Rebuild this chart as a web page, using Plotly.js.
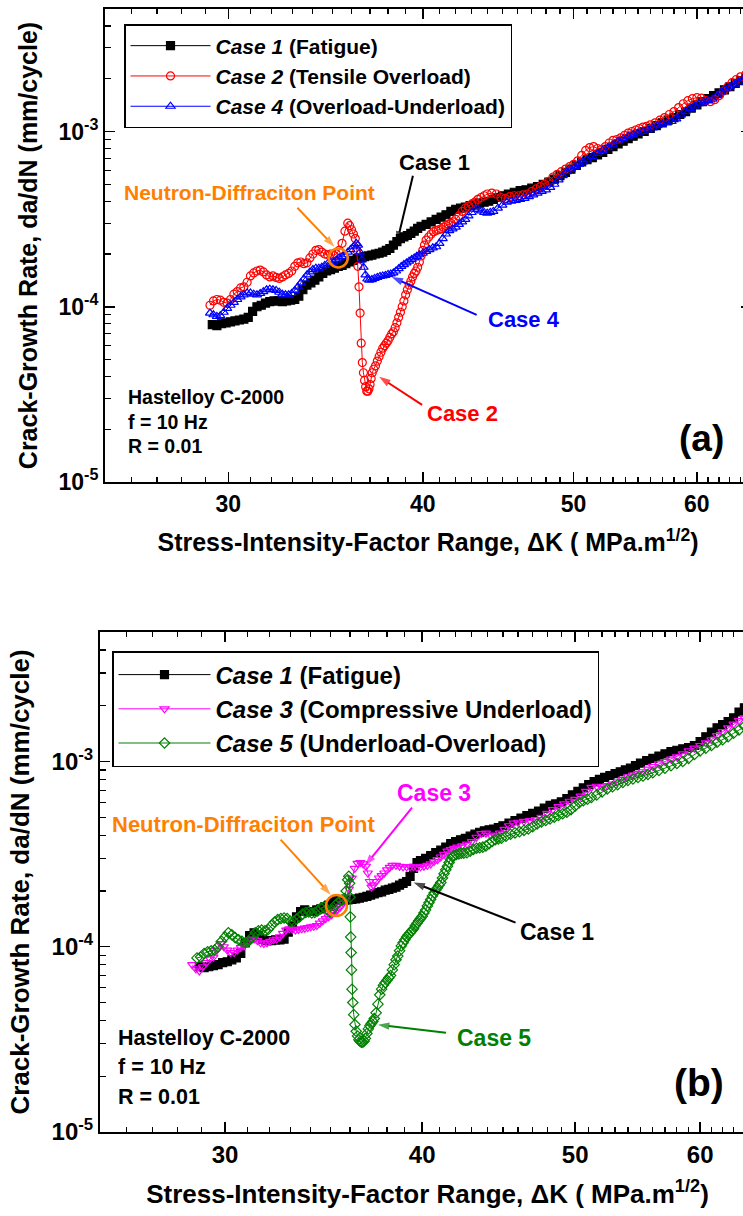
<!DOCTYPE html>
<html>
<head>
<meta charset="utf-8">
<script src="https://cdn.plot.ly/plotly-3.0.1.min.js"></script>
<style>
html,body{margin:0;padding:0;overflow:hidden;background:#fff;}
#chart{width:760px;height:1216px;}
</style>
</head>
<body>
<div id="chart"></div>
<script>
// ---------------- DATA (ΔK in MPa·m^1/2, da/dN in mm/cycle) ----------------
const case1a = [[29.3,7.9e-5],[29.5,7.8e-5],[29.7,8.0e-5],[29.9,8.1e-5],[30.1,8.2e-5],[30.3,8.3e-5],[30.5,8.4e-5],[30.7,8.5e-5],[30.9,8.7e-5],[31.1,9.4e-5],[31.3,1.0e-4],[31.5,1.02e-4],[31.7,1.05e-4],[31.9,1.07e-4],[32.1,1.08e-4],[32.3,1.08e-4],[32.5,1.07e-4],[32.7,1.08e-4],[32.9,1.09e-4],[33.1,1.10e-4],[33.3,1.15e-4],[33.5,1.25e-4],[33.7,1.33e-4],[33.9,1.37e-4],[34.1,1.42e-4],[34.3,1.48e-4],[34.5,1.55e-4],[34.7,1.60e-4],[34.9,1.63e-4],[35.1,1.66e-4],[35.3,1.70e-4],[35.5,1.72e-4],[35.7,1.76e-4],[35.9,1.80e-4],[36.1,1.84e-4],[36.3,1.88e-4],[36.5,1.90e-4],[36.7,1.93e-4],[36.9,1.95e-4],[37.1,1.97e-4],[37.3,2.00e-4],[37.5,2.02e-4],[37.7,2.05e-4],[37.9,2.10e-4],[38.1,2.15e-4],[38.3,2.25e-4],[38.5,2.35e-4],[38.7,2.45e-4],[38.9,2.50e-4],[39.1,2.55e-4],[39.3,2.62e-4],[39.5,2.70e-4],[39.7,2.80e-4],[39.9,2.88e-4],[40.2,2.95e-4],[40.5,3.05e-4],[40.8,3.15e-4],[41.1,3.25e-4],[41.4,3.35e-4],[41.7,3.50e-4],[42.0,3.60e-4],[42.3,3.65e-4],[42.6,3.70e-4],[42.9,3.78e-4],[43.2,3.85e-4],[43.5,3.90e-4],[43.8,3.95e-4],[44.1,4.00e-4],[44.4,4.10e-4],[44.7,4.20e-4],[45.0,4.30e-4],[45.4,4.40e-4],[45.8,4.50e-4],[46.2,4.60e-4],[46.6,4.65e-4],[47.0,4.75e-4],[47.4,4.85e-4],[47.8,5.00e-4],[48.2,5.15e-4],[48.6,5.35e-4],[49.0,5.60e-4],[49.4,5.85e-4],[49.8,6.10e-4],[50.2,6.40e-4],[50.6,6.70e-4],[51.0,6.90e-4],[51.4,7.10e-4],[51.8,7.35e-4],[52.2,7.60e-4],[52.6,7.90e-4],[53.0,8.20e-4],[53.4,8.50e-4],[53.8,8.80e-4],[54.2,9.10e-4],[54.6,9.40e-4],[55.0,9.70e-4],[55.5,1.00e-3],[56.0,1.04e-3],[56.5,1.08e-3],[57.0,1.12e-3],[57.5,1.16e-3],[58.0,1.20e-3],[58.5,1.25e-3],[59.0,1.30e-3],[59.5,1.36e-3],[60.0,1.42e-3],[60.5,1.48e-3],[61.0,1.54e-3],[61.5,1.60e-3],[62.0,1.66e-3],[62.5,1.73e-3],[63.0,1.80e-3],[63.5,1.88e-3],[64.0,1.95e-3],[64.5,2.02e-3]];

const case2a = [[29.2,1.02e-4],[29.35,1.08e-4],[29.5,1.10e-4],[29.65,1.09e-4],[29.8,1.06e-4],[29.95,1.05e-4],[30.1,1.10e-4],[30.25,1.18e-4],[30.4,1.22e-4],[30.55,1.28e-4],[30.7,1.30e-4],[30.85,1.38e-4],[31.0,1.50e-4],[31.15,1.56e-4],[31.3,1.60e-4],[31.45,1.62e-4],[31.6,1.58e-4],[31.75,1.52e-4],[31.9,1.48e-4],[32.05,1.50e-4],[32.2,1.47e-4],[32.35,1.45e-4],[32.5,1.48e-4],[32.65,1.52e-4],[32.8,1.55e-4],[32.95,1.60e-4],[33.1,1.70e-4],[33.25,1.78e-4],[33.4,1.80e-4],[33.55,1.76e-4],[33.7,1.78e-4],[33.85,1.90e-4],[34.0,2.00e-4],[34.15,2.10e-4],[34.3,2.12e-4],[34.45,2.05e-4],[34.6,2.00e-4],[34.75,1.98e-4],[34.9,2.00e-4],[35.05,1.97e-4],[35.2,2.00e-4],[35.35,2.10e-4],[35.5,2.30e-4],[35.65,2.70e-4],[35.8,3.00e-4],[35.9,2.90e-4],[36.0,2.75e-4],[36.1,2.60e-4],[36.2,2.45e-4],[36.28,2.10e-4],[36.34,1.70e-4],[36.4,1.30e-4],[36.46,9.2e-5],[36.52,6.2e-5],[36.58,4.8e-5],[36.64,4.2e-5],[36.7,3.8e-5],[36.76,3.5e-5],[36.82,3.3e-5],[36.88,3.3e-5],[36.94,3.4e-5],[37.0,3.6e-5],[37.06,3.9e-5],[37.12,4.2e-5],[37.2,4.4e-5],[37.3,4.6e-5],[37.4,4.9e-5],[37.5,5.2e-5],[37.6,5.5e-5],[37.7,5.8e-5],[37.8,6.0e-5],[37.9,6.2e-5],[38.0,6.4e-5],[38.1,6.7e-5],[38.2,7.0e-5],[38.3,7.2e-5],[38.4,7.6e-5],[38.5,8.1e-5],[38.6,8.7e-5],[38.7,9.3e-5],[38.8,1.00e-4],[38.9,1.08e-4],[39.0,1.17e-4],[39.1,1.25e-4],[39.2,1.33e-4],[39.3,1.40e-4],[39.4,1.48e-4],[39.5,1.55e-4],[39.6,1.60e-4],[39.7,1.68e-4],[39.8,1.80e-4],[39.9,1.95e-4],[40.0,2.10e-4],[40.1,2.25e-4],[40.2,2.40e-4],[40.35,2.50e-4],[40.5,2.60e-4],[40.65,2.68e-4],[40.8,2.72e-4],[40.95,2.75e-4],[41.1,2.78e-4],[41.25,2.85e-4],[41.4,2.90e-4],[41.55,2.95e-4],[41.7,3.00e-4],[41.85,3.05e-4],[42.0,3.15e-4],[42.2,3.30e-4],[42.4,3.50e-4],[42.6,3.65e-4],[42.8,3.75e-4],[43.0,3.85e-4],[43.2,3.95e-4],[43.4,4.10e-4],[43.6,4.20e-4],[43.8,4.30e-4],[44.0,4.40e-4],[44.3,4.45e-4],[44.6,4.40e-4],[44.9,4.20e-4],[45.2,4.15e-4],[45.5,4.25e-4],[45.8,4.30e-4],[46.1,4.30e-4],[46.4,4.35e-4],[46.7,4.40e-4],[47.0,4.55e-4],[47.3,4.70e-4],[47.6,4.85e-4],[47.9,5.00e-4],[48.2,5.20e-4],[48.5,5.50e-4],[48.8,5.70e-4],[49.1,5.90e-4],[49.4,6.10e-4],[49.7,6.30e-4],[50.0,6.50e-4],[50.3,6.80e-4],[50.6,7.30e-4],[50.9,7.80e-4],[51.2,8.10e-4],[51.5,8.20e-4],[51.8,8.00e-4],[52.1,7.90e-4],[52.4,8.20e-4],[52.7,8.60e-4],[53.0,8.90e-4],[53.3,9.00e-4],[53.6,9.20e-4],[53.9,9.50e-4],[54.2,9.80e-4],[54.5,1.00e-3],[54.8,1.02e-3],[55.1,1.04e-3],[55.4,1.06e-3],[55.7,1.07e-3],[56.0,1.09e-3],[56.4,1.12e-3],[56.8,1.16e-3],[57.2,1.20e-3],[57.6,1.25e-3],[58.0,1.30e-3],[58.4,1.37e-3],[58.8,1.44e-3],[59.2,1.50e-3],[59.6,1.54e-3],[60.0,1.56e-3],[60.4,1.55e-3],[60.8,1.50e-3],[61.2,1.48e-3],[61.6,1.52e-3],[62.0,1.60e-3],[62.4,1.70e-3],[62.8,1.80e-3],[63.2,1.90e-3],[63.6,1.98e-3],[64.0,2.05e-3],[64.5,2.12e-3]];

const case4a = [[29.2,9.2e-5],[29.35,9.0e-5],[29.5,8.8e-5],[29.65,8.9e-5],[29.8,9.3e-5],[29.95,9.8e-5],[30.1,1.02e-4],[30.25,1.06e-4],[30.4,1.10e-4],[30.55,1.14e-4],[30.7,1.17e-4],[30.85,1.20e-4],[31.0,1.20e-4],[31.15,1.18e-4],[31.3,1.17e-4],[31.45,1.19e-4],[31.6,1.22e-4],[31.75,1.25e-4],[31.9,1.26e-4],[32.05,1.25e-4],[32.2,1.24e-4],[32.35,1.21e-4],[32.5,1.18e-4],[32.65,1.17e-4],[32.8,1.17e-4],[32.95,1.19e-4],[33.1,1.24e-4],[33.25,1.30e-4],[33.4,1.37e-4],[33.55,1.44e-4],[33.7,1.52e-4],[33.85,1.58e-4],[34.0,1.63e-4],[34.15,1.66e-4],[34.3,1.66e-4],[34.45,1.68e-4],[34.6,1.72e-4],[34.75,1.76e-4],[34.9,1.78e-4],[35.05,1.80e-4],[35.2,1.85e-4],[35.35,1.90e-4],[35.5,1.93e-4],[35.65,1.98e-4],[35.8,2.05e-4],[35.95,2.12e-4],[36.1,2.20e-4],[36.25,2.30e-4],[36.35,2.25e-4],[36.45,2.05e-4],[36.55,1.85e-4],[36.65,1.68e-4],[36.75,1.52e-4],[36.85,1.44e-4],[36.95,1.42e-4],[37.1,1.43e-4],[37.25,1.45e-4],[37.4,1.47e-4],[37.55,1.49e-4],[37.7,1.50e-4],[37.85,1.51e-4],[38.0,1.53e-4],[38.15,1.54e-4],[38.3,1.56e-4],[38.45,1.60e-4],[38.6,1.65e-4],[38.75,1.70e-4],[38.9,1.74e-4],[39.05,1.78e-4],[39.2,1.82e-4],[39.35,1.86e-4],[39.5,1.90e-4],[39.65,1.94e-4],[39.8,1.98e-4],[40.0,2.02e-4],[40.2,2.07e-4],[40.4,2.12e-4],[40.6,2.17e-4],[40.8,2.20e-4],[41.0,2.30e-4],[41.2,2.45e-4],[41.4,2.60e-4],[41.6,2.72e-4],[41.8,2.78e-4],[42.0,2.85e-4],[42.2,2.95e-4],[42.4,3.05e-4],[42.6,3.15e-4],[42.8,3.30e-4],[43.0,3.45e-4],[43.2,3.60e-4],[43.4,3.60e-4],[43.6,3.52e-4],[43.8,3.45e-4],[44.0,3.42e-4],[44.2,3.45e-4],[44.4,3.50e-4],[44.7,3.65e-4],[45.0,3.80e-4],[45.3,3.95e-4],[45.6,4.00e-4],[45.9,4.05e-4],[46.2,4.10e-4],[46.5,4.15e-4],[46.8,4.25e-4],[47.1,4.35e-4],[47.4,4.45e-4],[47.7,4.55e-4],[48.0,4.65e-4],[48.3,4.80e-4],[48.6,5.00e-4],[48.9,5.30e-4],[49.2,5.60e-4],[49.5,5.90e-4],[49.8,6.10e-4],[50.1,6.30e-4],[50.4,6.50e-4],[50.7,6.70e-4],[51.0,6.90e-4],[51.4,7.20e-4],[51.8,7.50e-4],[52.2,7.80e-4],[52.6,8.10e-4],[53.0,8.40e-4],[53.4,8.80e-4],[53.8,9.10e-4],[54.2,9.40e-4],[54.6,9.60e-4],[55.0,9.80e-4],[55.4,1.00e-3],[55.8,1.02e-3],[56.2,1.05e-3],[56.6,1.08e-3],[57.0,1.10e-3],[57.4,1.12e-3],[57.8,1.14e-3],[58.2,1.18e-3],[58.6,1.24e-3],[59.0,1.30e-3],[59.4,1.35e-3],[59.8,1.40e-3],[60.2,1.44e-3],[60.6,1.47e-3],[61.0,1.50e-3],[61.4,1.53e-3],[61.8,1.60e-3],[62.2,1.68e-3],[62.6,1.75e-3],[63.0,1.80e-3],[63.4,1.86e-3],[63.8,1.92e-3],[64.2,1.98e-3],[64.6,2.04e-3]];

const case1b = [[28.9,7.8e-5],[29.1,7.7e-5],[29.3,7.8e-5],[29.5,7.9e-5],[29.7,8.0e-5],[29.9,8.2e-5],[30.1,8.3e-5],[30.3,8.5e-5],[30.5,8.7e-5],[30.7,9.2e-5],[30.9,1.05e-4],[31.1,1.15e-4],[31.3,1.19e-4],[31.5,1.15e-4],[31.7,1.10e-4],[31.9,1.08e-4],[32.1,1.08e-4],[32.3,1.09e-4],[32.5,1.09e-4],[32.7,1.10e-4],[32.9,1.20e-4],[33.1,1.30e-4],[33.3,1.45e-4],[33.5,1.55e-4],[33.7,1.58e-4],[33.9,1.55e-4],[34.1,1.55e-4],[34.3,1.58e-4],[34.5,1.60e-4],[34.7,1.64e-4],[34.9,1.68e-4],[35.1,1.74e-4],[35.3,1.78e-4],[35.5,1.78e-4],[35.7,1.78e-4],[35.9,1.79e-4],[36.1,1.80e-4],[36.3,1.81e-4],[36.5,1.83e-4],[36.7,1.85e-4],[36.9,1.87e-4],[37.1,1.90e-4],[37.3,1.93e-4],[37.5,1.96e-4],[37.7,1.98e-4],[37.9,2.02e-4],[38.1,2.04e-4],[38.3,2.07e-4],[38.5,2.10e-4],[38.7,2.15e-4],[38.9,2.20e-4],[39.1,2.25e-4],[39.3,2.40e-4],[39.5,2.65e-4],[39.7,2.85e-4],[39.9,2.92e-4],[40.2,3.00e-4],[40.5,3.10e-4],[40.8,3.22e-4],[41.1,3.32e-4],[41.4,3.45e-4],[41.7,3.60e-4],[42.0,3.70e-4],[42.3,3.78e-4],[42.6,3.85e-4],[42.9,3.95e-4],[43.2,4.05e-4],[43.5,4.15e-4],[43.8,4.22e-4],[44.1,4.28e-4],[44.4,4.32e-4],[44.7,4.40e-4],[45.0,4.50e-4],[45.4,4.65e-4],[45.8,4.80e-4],[46.2,4.95e-4],[46.6,5.10e-4],[47.0,5.25e-4],[47.4,5.40e-4],[47.8,5.60e-4],[48.2,5.80e-4],[48.6,5.90e-4],[49.0,6.05e-4],[49.4,6.30e-4],[49.8,6.60e-4],[50.2,6.90e-4],[50.6,7.20e-4],[51.0,7.50e-4],[51.4,7.80e-4],[51.8,8.00e-4],[52.2,8.20e-4],[52.6,8.40e-4],[53.0,8.60e-4],[53.4,8.80e-4],[53.8,9.00e-4],[54.2,9.20e-4],[54.6,9.50e-4],[55.0,9.80e-4],[55.5,1.01e-3],[56.0,1.04e-3],[56.5,1.07e-3],[57.0,1.10e-3],[57.5,1.13e-3],[58.0,1.15e-3],[58.5,1.17e-3],[59.0,1.19e-3],[59.5,1.22e-3],[60.0,1.28e-3],[60.5,1.36e-3],[61.0,1.44e-3],[61.5,1.52e-3],[62.0,1.58e-3],[62.5,1.64e-3],[63.0,1.72e-3],[63.5,1.85e-3],[64.0,1.95e-3],[64.5,2.00e-3]];

const case3b = [[28.6,8.0e-5],[28.75,7.6e-5],[28.9,7.4e-5],[29.05,7.8e-5],[29.2,8.2e-5],[29.35,8.6e-5],[29.5,8.8e-5],[29.65,9.6e-5],[29.8,1.04e-4],[29.95,1.00e-4],[30.1,9.6e-5],[30.25,9.3e-5],[30.4,9.3e-5],[30.55,9.6e-5],[30.7,9.9e-5],[30.85,1.01e-4],[31.0,1.05e-4],[31.15,1.09e-4],[31.3,1.10e-4],[31.45,1.08e-4],[31.6,1.05e-4],[31.75,1.04e-4],[31.9,1.05e-4],[32.05,1.07e-4],[32.2,1.09e-4],[32.35,1.10e-4],[32.5,1.13e-4],[32.65,1.18e-4],[32.8,1.23e-4],[32.95,1.25e-4],[33.1,1.24e-4],[33.25,1.23e-4],[33.4,1.24e-4],[33.55,1.25e-4],[33.7,1.26e-4],[33.85,1.27e-4],[34.0,1.28e-4],[34.15,1.29e-4],[34.3,1.30e-4],[34.45,1.34e-4],[34.6,1.38e-4],[34.75,1.42e-4],[34.9,1.45e-4],[35.05,1.49e-4],[35.2,1.53e-4],[35.35,1.58e-4],[35.5,1.64e-4],[35.65,1.72e-4],[35.8,1.85e-4],[35.95,2.05e-4],[36.1,2.35e-4],[36.25,2.65e-4],[36.4,2.82e-4],[36.55,2.85e-4],[36.7,2.80e-4],[36.85,2.72e-4],[36.95,2.50e-4],[37.05,2.25e-4],[37.15,2.10e-4],[37.25,2.15e-4],[37.4,2.25e-4],[37.55,2.35e-4],[37.7,2.42e-4],[37.85,2.50e-4],[38.0,2.60e-4],[38.15,2.68e-4],[38.3,2.75e-4],[38.5,2.75e-4],[38.7,2.72e-4],[38.9,2.70e-4],[39.1,2.70e-4],[39.3,2.70e-4],[39.5,2.70e-4],[39.7,2.68e-4],[39.9,2.70e-4],[40.1,2.72e-4],[40.3,2.75e-4],[40.5,2.80e-4],[40.7,2.88e-4],[40.9,2.95e-4],[41.1,3.05e-4],[41.3,3.15e-4],[41.5,3.28e-4],[41.7,3.35e-4],[41.9,3.40e-4],[42.1,3.45e-4],[42.4,3.50e-4],[42.7,3.58e-4],[43.0,3.70e-4],[43.3,3.90e-4],[43.6,4.08e-4],[43.9,4.10e-4],[44.2,4.00e-4],[44.5,3.95e-4],[44.8,4.10e-4],[45.1,4.30e-4],[45.4,4.50e-4],[45.7,4.65e-4],[46.0,4.70e-4],[46.4,4.75e-4],[46.8,4.80e-4],[47.2,4.85e-4],[47.6,5.00e-4],[48.0,5.25e-4],[48.4,5.50e-4],[48.8,5.70e-4],[49.2,5.90e-4],[49.6,6.10e-4],[50.0,6.25e-4],[50.4,6.50e-4],[50.8,6.90e-4],[51.2,7.25e-4],[51.6,7.35e-4],[52.0,7.30e-4],[52.4,7.40e-4],[52.8,7.55e-4],[53.2,7.75e-4],[53.6,8.00e-4],[54.0,8.25e-4],[54.4,8.45e-4],[54.8,8.60e-4],[55.2,8.80e-4],[55.6,9.10e-4],[56.0,9.40e-4],[56.5,9.70e-4],[57.0,1.00e-3],[57.5,1.03e-3],[58.0,1.06e-3],[58.5,1.10e-3],[59.0,1.14e-3],[59.5,1.18e-3],[60.0,1.22e-3],[60.5,1.26e-3],[61.0,1.31e-3],[61.5,1.38e-3],[62.0,1.45e-3],[62.5,1.52e-3],[63.0,1.59e-3],[63.5,1.66e-3],[64.0,1.72e-3],[64.5,1.78e-3]];

const case5b = [[28.8,8.7e-5],[28.95,8.8e-5],[29.1,9.2e-5],[29.25,9.4e-5],[29.4,9.5e-5],[29.55,9.6e-5],[29.7,1.00e-4],[29.85,1.07e-4],[30.0,1.13e-4],[30.15,1.19e-4],[30.3,1.16e-4],[30.45,1.12e-4],[30.6,1.09e-4],[30.75,1.07e-4],[30.9,1.05e-4],[31.05,1.07e-4],[31.2,1.12e-4],[31.35,1.19e-4],[31.5,1.22e-4],[31.65,1.23e-4],[31.8,1.22e-4],[31.95,1.24e-4],[32.1,1.30e-4],[32.25,1.36e-4],[32.4,1.40e-4],[32.55,1.42e-4],[32.7,1.43e-4],[32.85,1.42e-4],[33.0,1.37e-4],[33.15,1.37e-4],[33.3,1.41e-4],[33.45,1.45e-4],[33.6,1.50e-4],[33.75,1.53e-4],[33.9,1.54e-4],[34.05,1.52e-4],[34.2,1.53e-4],[34.35,1.56e-4],[34.5,1.62e-4],[34.65,1.64e-4],[34.8,1.60e-4],[34.95,1.54e-4],[35.1,1.58e-4],[35.25,1.68e-4],[35.4,1.74e-4],[35.55,1.78e-4],[35.7,1.82e-4],[35.8,2.00e-4],[35.88,2.30e-4],[35.94,2.40e-4],[35.98,2.20e-4],[36.0,1.85e-4],[36.02,1.45e-4],[36.04,1.13e-4],[36.06,9.3e-5],[36.08,7.5e-5],[36.11,5.9e-5],[36.15,5.0e-5],[36.2,4.3e-5],[36.26,3.8e-5],[36.33,3.5e-5],[36.4,3.3e-5],[36.47,3.15e-5],[36.54,3.08e-5],[36.61,3.05e-5],[36.68,3.05e-5],[36.75,3.1e-5],[36.82,3.2e-5],[36.9,3.4e-5],[36.98,3.6e-5],[37.06,3.75e-5],[37.14,3.85e-5],[37.22,3.95e-5],[37.3,4.1e-5],[37.4,4.4e-5],[37.5,4.9e-5],[37.6,5.5e-5],[37.7,5.9e-5],[37.8,6.2e-5],[37.9,6.4e-5],[38.0,6.6e-5],[38.1,6.8e-5],[38.2,7.0e-5],[38.3,7.5e-5],[38.4,8.0e-5],[38.5,8.5e-5],[38.6,8.9e-5],[38.7,9.5e-5],[38.8,1.01e-4],[38.9,1.05e-4],[39.0,1.09e-4],[39.1,1.13e-4],[39.2,1.16e-4],[39.3,1.19e-4],[39.4,1.22e-4],[39.5,1.25e-4],[39.6,1.30e-4],[39.7,1.34e-4],[39.8,1.38e-4],[39.9,1.42e-4],[40.0,1.46e-4],[40.1,1.52e-4],[40.2,1.58e-4],[40.3,1.66e-4],[40.4,1.73e-4],[40.5,1.80e-4],[40.6,1.88e-4],[40.7,1.95e-4],[40.8,2.02e-4],[40.9,2.08e-4],[41.0,2.15e-4],[41.1,2.22e-4],[41.2,2.35e-4],[41.3,2.48e-4],[41.4,2.60e-4],[41.5,2.72e-4],[41.6,2.85e-4],[41.7,2.97e-4],[41.8,3.06e-4],[41.9,3.12e-4],[42.05,3.15e-4],[42.2,3.17e-4],[42.35,3.20e-4],[42.5,3.20e-4],[42.7,3.22e-4],[42.9,3.28e-4],[43.1,3.35e-4],[43.3,3.40e-4],[43.5,3.42e-4],[43.7,3.45e-4],[43.9,3.50e-4],[44.1,3.60e-4],[44.3,3.70e-4],[44.5,3.78e-4],[44.7,3.82e-4],[44.9,3.85e-4],[45.2,3.95e-4],[45.5,4.05e-4],[45.8,4.12e-4],[46.1,4.18e-4],[46.4,4.25e-4],[46.7,4.32e-4],[47.0,4.45e-4],[47.3,4.60e-4],[47.6,4.72e-4],[47.9,4.80e-4],[48.2,4.90e-4],[48.5,5.00e-4],[48.8,5.12e-4],[49.1,5.22e-4],[49.4,5.32e-4],[49.7,5.50e-4],[50.0,5.75e-4],[50.3,6.00e-4],[50.6,6.15e-4],[50.9,6.25e-4],[51.2,6.40e-4],[51.6,6.60e-4],[52.0,6.85e-4],[52.4,7.10e-4],[52.8,7.30e-4],[53.2,7.50e-4],[53.6,7.70e-4],[54.0,7.90e-4],[54.4,8.05e-4],[54.8,8.20e-4],[55.2,8.35e-4],[55.6,8.50e-4],[56.0,8.70e-4],[56.5,8.95e-4],[57.0,9.20e-4],[57.5,9.50e-4],[58.0,9.75e-4],[58.5,1.00e-3],[59.0,1.04e-3],[59.5,1.09e-3],[60.0,1.14e-3],[60.5,1.18e-3],[61.0,1.22e-3],[61.5,1.27e-3],[62.0,1.31e-3],[62.5,1.36e-3],[63.0,1.42e-3],[63.5,1.48e-3],[64.0,1.55e-3],[64.5,1.60e-3]];

// Neutron-diffraction measurement points
const neutronA = [35.3, 1.9e-4];
const neutronB = [35.3, 1.67e-4];

// Tick labels
const xMajor = [30, 40, 50, 60];
const xMajorText = ['30', '40', '50', '60'];
const xMinor = [26,27,28,29,31,32,33,34,35,36,37,38,39,41,42,43,44,45,46,47,48,49,51,52,53,54,55,56,57,58,59,61,62,63,64];
const yMajor = [1e-5, 1e-4, 1e-3];
const yMajorText = ['10<sup>-5</sup>', '10<sup>-4</sup>', '10<sup>-3</sup>'];
const yMinor = [2e-5,3e-5,4e-5,5e-5,6e-5,7e-5,8e-5,9e-5,2e-4,3e-4,4e-4,5e-4,6e-4,7e-4,8e-4,9e-4,2e-3,3e-3,4e-3];

// Legend labels
const namesA = ['<i>Case 1</i> (Fatigue)', '<i>Case 2</i> (Tensile Overload)', '<i>Case 4</i> (Overload-Underload)'];
const namesB = ['<i>Case 1</i> (Fatigue)', '<i>Case 3</i> (Compressive Underload)', '<i>Case 5</i> (Underload-Overload)'];

// ---------------- LAYOUT HELPERS ----------------
const W = 760, H = 1216;
const FONT = 'Liberation Sans, Arial, Helvetica, sans-serif';
const px = v => v / W;
const py = v => 1 - v / H;
const col = (arr, i) => arr.map(p => p[i]);
const L = Math.log10;
const XR = [L(25), L(65)], YR = [-5, L(5e-3)];
// plot-area pixel boxes of the two panels
const PA = {x0: 105, x1: 751, y0: 482, y1: 9};
const PB = {x0: 100, x1: 755, y0: 1132, y1: 632};

function toPx(P, dk, r) {
  return [P.x0 + (L(dk) - XR[0]) / (XR[1] - XR[0]) * (P.x1 - P.x0),
          P.y0 - (L(r) - YR[0]) / (YR[1] - YR[0]) * (P.y0 - P.y1)];
}
function fromPx(P, X, Y) {
  return [Math.pow(10, XR[0] + (X - P.x0) / (P.x1 - P.x0) * (XR[1] - XR[0])),
          Math.pow(10, YR[0] + (P.y0 - Y) / (P.y0 - P.y1) * (YR[1] - YR[0]))];
}

function series(data, name, color, symbol, xa, ya, legend, group, msize) {
  return {
    x: col(data, 0), y: col(data, 1), name: '<b>' + name + '</b>',
    type: 'scatter', mode: 'lines+markers', xaxis: xa, yaxis: ya, legend: legend, legendgroup: group,
    line: {color: color, width: 1},
    marker: {symbol: symbol, size: msize || 8, color: color, line: {color: color, width: 1.2}}
  };
}

// Arrow pointing to (dk, rate); tail offset given in pixels.
function arrowTrace(P, xa, ya, dk, rate, ox, oy, color) {
  const tip = toPx(P, dk, rate);
  const tail = fromPx(P, tip[0] + ox, tip[1] + oy);
  return {x: [tail[0], dk], y: [tail[1], rate], xaxis: xa, yaxis: ya,
          type: 'scatter', mode: 'lines+markers', showlegend: false, hoverinfo: 'skip',
          line: {color: color, width: 2},
          marker: {symbol: 'arrow', size: [0, 12], angleref: 'previous', color: color,
                   line: {width: 0, color: color}}};
}

const ORANGE = '#FF8000';
const traces = [
  series(case1a, namesA[0], '#000000', 'square', 'x', 'y', 'legend', 'a1', 8),
  series(case2a, namesA[1], '#FF0000', 'circle-open', 'x', 'y', 'legend', 'a2'),
  series(case4a, namesA[2], '#0000FF', 'triangle-up-open', 'x', 'y', 'legend', 'a4'),
  series(case1b, namesB[0], '#000000', 'square', 'x2', 'y2', 'legend2', 'b1', 8),
  series(case3b, namesB[1], '#FF00FF', 'triangle-down-open', 'x2', 'y2', 'legend2', 'b3'),
  series(case5b, namesB[2], '#008000', 'diamond-open', 'x2', 'y2', 'legend2', 'b5'),
  {x: [neutronA[0]], y: [neutronA[1]], xaxis: 'x', yaxis: 'y', type: 'scatter', mode: 'markers',
   showlegend: false, hoverinfo: 'skip', marker: {symbol: 'circle-open', size: 19, color: ORANGE, line: {width: 2.5, color: ORANGE}}},
  {x: [neutronB[0]], y: [neutronB[1]], xaxis: 'x2', yaxis: 'y2', type: 'scatter', mode: 'markers',
   showlegend: false, hoverinfo: 'skip', marker: {symbol: 'circle-open', size: 21, color: ORANGE, line: {width: 2.5, color: ORANGE}}},
  // arrows, panel (a)
  arrowTrace(PA, 'x', 'y', 38.5, 2.32e-4, 16, -67, '#000000'),
  arrowTrace(PA, 'x', 'y', 35.1, 2.2e-4, -37, -39, ORANGE),
  arrowTrace(PA, 'x', 'y', 38.2, 1.48e-4, 85, 38, '#0000FF'),
  arrowTrace(PA, 'x', 'y', 37.5, 3.98e-5, 43, 28, '#FF0000'),
  // arrows, panel (b)
  arrowTrace(PB, 'x2', 'y2', 36.8, 2.74e-4, 47, -58, '#FF00FF'),
  arrowTrace(PB, 'x2', 'y2', 35.0, 1.91e-4, -50, -55, ORANGE),
  arrowTrace(PB, 'x2', 'y2', 39.5, 2.22e-4, 102, 40, '#000000'),
  arrowTrace(PB, 'x2', 'y2', 37.5, 3.79e-5, 68, 8, '#008000')
];

function xAxis(domain, anchor, fs, tfs, title, standoff) {
  return {
    type: 'log', domain: domain, anchor: anchor, range: XR,
    showline: true, linecolor: '#000', linewidth: 2, mirror: 'ticks',
    ticks: 'inside', ticklen: 10, tickwidth: 1.5, tickcolor: '#000',
    tickmode: 'array', tickvals: xMajor, ticktext: xMajorText,
    tickfont: {family: FONT, size: fs, color: '#000', weight: 'bold'},
    minor: {tickmode: 'array', tickvals: xMinor, ticks: 'inside', ticklen: 5, tickwidth: 1.2, tickcolor: '#000', showgrid: false},
    showgrid: false, zeroline: false, fixedrange: true,
    title: {text: title, font: {family: FONT, size: tfs, color: '#000', weight: 'bold'}, standoff: standoff}
  };
}
function yAxis(domain, anchor, fs, tfs, title, standoff) {
  return {
    type: 'log', domain: domain, anchor: anchor, range: YR,
    showline: true, linecolor: '#000', linewidth: 2, mirror: 'ticks',
    ticks: 'inside', ticklen: 10, tickwidth: 1.5, tickcolor: '#000',
    tickmode: 'array', tickvals: yMajor, ticktext: yMajorText,
    tickfont: {family: FONT, size: fs, color: '#000', weight: 'bold'},
    minor: {tickmode: 'array', tickvals: yMinor, ticks: 'inside', ticklen: 6, tickwidth: 1.2, tickcolor: '#000', showgrid: false},
    showgrid: false, zeroline: false, fixedrange: true,
    title: {text: title, font: {family: FONT, size: tfs, color: '#000', weight: 'bold'}, standoff: standoff}
  };
}

const xTitle = 'Stress-Intensity-Factor Range, ΔK ( MPa.m<sup>1/2</sup>)';
const yTitle = 'Crack-Growth Rate, da/dN (mm/cycle)';

function txt(x, y, text, color, size, anchor) {
  return {xref: 'paper', yref: 'paper', x: px(x), y: py(y), text: '<b>' + text + '</b>',
          showarrow: false, xanchor: anchor || 'center', yanchor: 'middle',
          font: {family: FONT, size: size, color: color}};
}

const annotations = [
  // panel (a)
  txt(435, 162, 'Case 1', '#000', 22),
  txt(122, 192, 'Neutron-Diffraciton Point', ORANGE, 21, 'left'),
  txt(524, 320, 'Case 4', '#0000FF', 22),
  txt(462, 413, 'Case 2', '#FF0000', 22),
  txt(126, 397, 'Hastelloy C-2000', '#000', 19.5, 'left'),
  txt(126, 422, 'f = 10 Hz', '#000', 19.5, 'left'),
  txt(126, 446, 'R = 0.01', '#000', 19.5, 'left'),
  txt(701, 438, '(a)', '#000', 37),
  // panel (b)
  txt(434, 793, 'Case 3', '#FF00FF', 23),
  txt(110, 824, 'Neutron-Diffraciton Point', ORANGE, 22, 'left'),
  txt(557, 932, 'Case 1', '#000', 23),
  txt(494, 1038, 'Case 5', '#008000', 23),
  txt(116, 1038, 'Hastelloy C-2000', '#000', 21.5, 'left'),
  txt(116, 1067, 'f = 10 Hz', '#000', 21.5, 'left'),
  txt(116, 1097, 'R = 0.01', '#000', 21.5, 'left'),
  txt(699, 1082, '(b)', '#000', 39)
];

const layout = {
  width: W, height: H, margin: {l: 0, r: 0, t: 0, b: 0},
  paper_bgcolor: '#fff', plot_bgcolor: '#fff',
  font: {family: FONT, color: '#000'},
  showlegend: true,
  xaxis: xAxis([px(PA.x0), px(PA.x1)], 'y', 23, 25, xTitle, 18),
  yaxis: yAxis([py(PA.y0), py(PA.y1)], 'x', 23, 25, yTitle, 14),
  xaxis2: xAxis([px(PB.x0), px(PB.x1)], 'y2', 24, 26, xTitle, 18),
  yaxis2: yAxis([py(PB.y0), py(PB.y1)], 'x2', 24, 26, yTitle, 14),
  legend: {x: px(124), y: py(24), xanchor: 'left', yanchor: 'top',
           bgcolor: '#fff', bordercolor: '#000', borderwidth: 1.5,
           font: {family: FONT, size: 21, color: '#000'}, tracegroupgap: 0, itemwidth: 80},
  legend2: {x: px(112), y: py(651), xanchor: 'left', yanchor: 'top',
           bgcolor: '#fff', bordercolor: '#000', borderwidth: 1.5,
           font: {family: FONT, size: 24, color: '#000'}, tracegroupgap: 0, itemwidth: 92},
  annotations: annotations
};

Plotly.newPlot('chart', traces, layout, {displayModeBar: false, staticPlot: true});
</script>
</body>
</html>
